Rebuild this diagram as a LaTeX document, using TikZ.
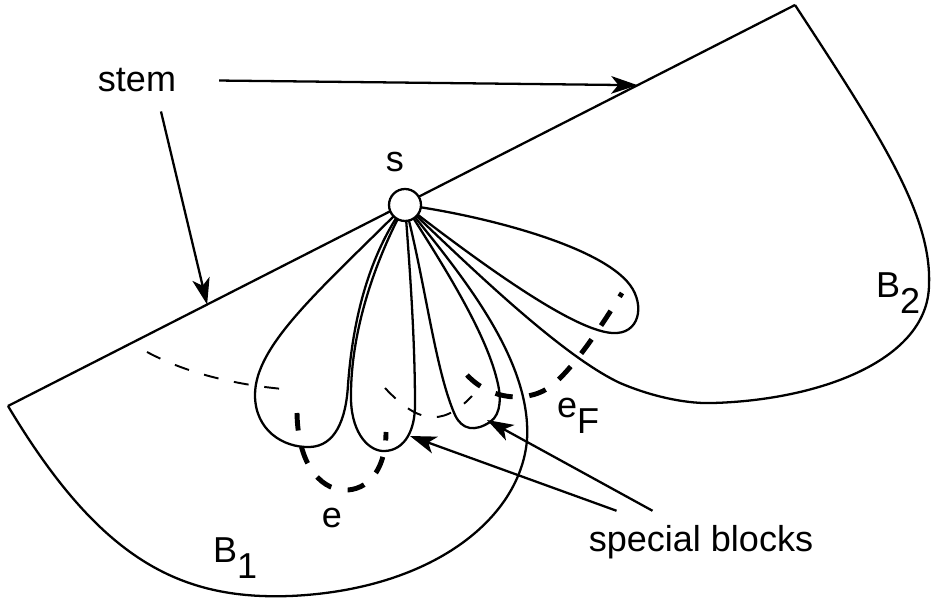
\documentclass[tikz,border=0pt]{standalone}
\usepackage{fontspec}
\setmainfont{Liberation Sans}
\usetikzlibrary{arrows.meta, positioning, calc}

\newcommand{\lowr}[1]{\raisebox{-0.42em}{#1}}

\begin{document}
\begin{tikzpicture}[
  x=0.02cm, y=-0.02cm,
  font=\fontsize{20.5}{24}\selectfont,
  line width=1.3pt,
  lbl/.style={inner sep=0pt, anchor=base},
  vtx/.style={draw, circle, fill=white, minimum size=0.64cm, inner sep=0pt},
  ark/.style={-{Stealth[length=15pt, width=10pt, inset=4pt]}, line width=1.3pt},
  hid/.style={dash pattern=on 8.5pt off 9pt, line width=1.1pt},
  cut/.style={dash pattern=on 10pt off 9.5pt, line width=2.8pt}
]
\useasboundingbox (0,0) rectangle (931,601);
\coordinate (sc) at (405,205);
\coordinate (bl) at (8,406);
\coordinate (tr) at (795,5);

% the two blocks B1 and B2
\draw (bl) -- (tr);
\draw (tr) .. controls (880,135) and (932,215) .. (929,285)
  .. controls (928,360) and (820,400) .. (713,403)
  .. controls (690,404) and (655,398) .. (620,383)
  .. controls (560,355) and (465,262) .. (sc);
\draw (bl) .. controls (100,560) and (180,600) .. (290,596)
  .. controls (430,590) and (520,520) .. (527,440)
  .. controls (532,360) and (462,275) .. (sc);

% special blocks
\draw (sc) .. controls (320,290) and (255,345) .. (255,395)
  .. controls (255,430) and (283,448) .. (310,447)
  .. controls (335,446) and (346,420) .. (348,385)
  .. controls (352,330) and (365,260) .. (sc);
\draw (sc) .. controls (370,270) and (350,340) .. (351,400)
  .. controls (352,435) and (370,452) .. (385,451)
  .. controls (405,450) and (415,430) .. (415,405)
  .. controls (415,340) and (410,270) .. (sc);
\draw (sc) .. controls (425,280) and (435,370) .. (455,415)
  .. controls (462,430) and (475,432) .. (490,422)
  .. controls (502,414) and (501,395) .. (497,380)
  .. controls (485,330) and (440,260) .. (sc);
\draw (sc) .. controls (480,215) and (600,245) .. (630,285)
  .. controls (645,305) and (640,335) .. (612,333)
  .. controls (570,330) and (470,255) .. (sc);

% hidden edges and cuts
\draw[hid] (147,352) .. controls (190,375) and (240,385) .. (283,389);
\draw[hid] (385,388) .. controls (415,420) and (440,430) .. (472,396);
\draw[cut] (297,413) .. controls (298,470) and (325,492) .. (348,490)
  .. controls (372,488) and (386,465) .. (386,432);
\draw[cut] (467,375) .. controls (490,400) and (530,405) .. (555,383)
  .. controls (580,360) and (605,320) .. (622,293);

\node[vtx] (s) at (sc) {};

% labels
\node[lbl] (stem) at (137,92) {stem};
\node[lbl] (slab) at (395,172) {s};
\node[lbl, anchor=base west] (b1) at (212,563) {B\lowr{1}};
\node[lbl, anchor=base west] (b2) at (875,298) {B\lowr{2}};
\node[lbl] (elab) at (332,528) {e};
\node[lbl, anchor=base west] (eflab) at (556,418) {e\lowr{F}};
\node[lbl] (spec) at (701,552) {special blocks};

\coordinate (hitB2) at ($(bl)!0.8!(tr)$);
\coordinate (hitB1) at ($(bl)!0.253!(tr)$);
\coordinate (blk2) at (410,436);
\coordinate (blk3) at (487,420);
\draw[ark] ([xshift=0.84cm]stem.east) -- (hitB2);
\draw[ark] ([xshift=0.48cm,yshift=-0.36cm]stem.south) -- (hitB1);
\draw[ark] ([xshift=-1.69cm,yshift=0.28cm]spec.north) -- (blk2);
\draw[ark] ([xshift=-0.97cm,yshift=0.28cm]spec.north) -- (blk3);
\end{tikzpicture}
\end{document}
